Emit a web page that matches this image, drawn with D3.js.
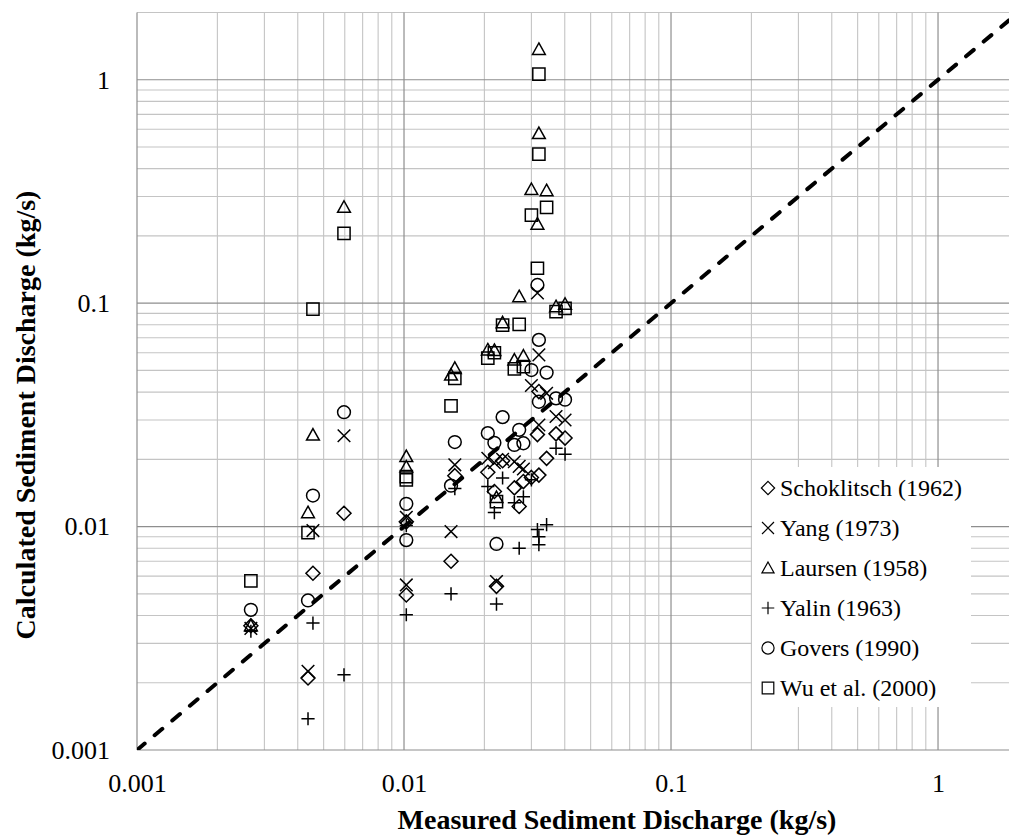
<!DOCTYPE html>
<html>
<head>
<meta charset="utf-8">
<script src="https://cdn.jsdelivr.net/npm/d3@7"></script>
<style>
  body { margin: 0; background: #fff; }
  text { font-family: "Liberation Serif", "Times New Roman", serif; fill: #000; }
</style>
</head>
<body>
<div id="chart"></div>
<script>
// measured discharge (kg/s), one entry per run
var measured    = [0.00267, 0.00437, 0.00456, 0.00596, 0.0102, 0.0102, 0.0150, 0.0155, 0.0206, 0.0218, 0.0222,
                   0.0234, 0.0259, 0.0270, 0.0280, 0.0300, 0.0316, 0.0320, 0.0320, 0.0342, 0.0371, 0.0401];
// calculated discharge (kg/s) per formula
var schoklitsch = [0.0036, 0.0021, 0.00618, 0.01148, 0.0105, 0.00494, 0.0070, 0.0169, 0.0175, 0.01435, 0.0054,
                   0.0197, 0.0149, 0.0123, 0.0159, 0.0166, 0.0258, 0.0402, 0.0170, 0.0202, 0.0260, 0.0249];
var yang        = [0.0035, 0.00225, 0.0096, 0.0255, 0.0110, 0.00548, 0.0095, 0.0189, 0.0202, 0.0193, 0.00568,
                   0.0200, 0.0195, 0.0186, 0.0181, 0.0428, 0.111, 0.0587, 0.0285, 0.0395, 0.0311, 0.0300];
var laursen     = [0.0036, 0.01155, 0.0257, 0.269, 0.0206, 0.0185, 0.0477, 0.0511, 0.0618, 0.0615, 0.0135,
                   0.0818, 0.0557, 0.107, 0.0580, 0.323, 0.226, 0.575, 1.368, 0.319, 0.0965, 0.0990];
var yalin       = [0.0034, 0.00138, 0.0037, 0.00217, 0.0101, 0.00403, 0.0050, 0.0148, 0.0151, 0.01155, 0.0045,
                   0.0165, 0.0128, 0.0080, 0.0136, 0.0162, 0.0097, 0.0090, 0.0083, 0.0102, 0.0224, 0.0211];
var govers      = [0.00424, 0.00467, 0.01377, 0.0325, 0.01264, 0.0087, 0.01525, 0.0239, 0.0262, 0.0237, 0.00836,
                   0.0309, 0.0232, 0.0271, 0.0236, 0.0502, 0.1206, 0.0685, 0.0362, 0.0489, 0.0375, 0.0370];
var wu          = [0.00572, 0.0094, 0.094, 0.2055, 0.01674, 0.01618, 0.0347, 0.0461, 0.0568, 0.0600, 0.01294,
                   0.0798, 0.0508, 0.0804, 0.0520, 0.248, 0.1433, 0.465, 1.06, 0.2686, 0.0917, 0.0947];

var seriesNames = ["Schoklitsch (1962)", "Yang (1973)", "Laursen (1958)", "Yalin (1963)", "Govers (1990)", "Wu et al. (2000)"];
var seriesShapes = ["diamond", "cross", "triangle", "plus", "circle", "square"];
var xTicks = [0.001, 0.01, 0.1, 1];
var yTicks = [0.001, 0.01, 0.1, 1];
var lineEnds = [0.001, 2];

var W = 1009, H = 837;
var margin = {left: 137, top: 12.5, bottom: 750, right: 1018.4};
var serif = "'Liberation Serif', 'Times New Roman', serif";

var svg = d3.select("#chart").append("svg")
    .attr("width", W)
    .attr("height", H);

var x = d3.scaleLog().domain([0.001, 2]).range([margin.left, margin.right]);
var y = d3.scaleLog().domain([0.001, 2]).range([margin.bottom, margin.top]);

function isMajor(v) { return Math.abs(Math.log10(v) - Math.round(Math.log10(v))) < 1e-9; }

// grid
var grid = svg.append("g").attr("class", "grid");
var minorX = x.ticks().filter(function(v){ return !isMajor(v); });
var minorY = y.ticks().filter(function(v){ return !isMajor(v); });
var majorX = x.ticks().filter(isMajor);
var majorY = y.ticks().filter(isMajor);

grid.selectAll("line.vminor").data(minorX).enter().append("line")
    .attr("x1", function(d){ return x(d); }).attr("x2", function(d){ return x(d); })
    .attr("y1", margin.top).attr("y2", margin.bottom)
    .attr("stroke", "#c4c4c4").attr("stroke-width", 1.1);
grid.selectAll("line.hminor").data(minorY).enter().append("line")
    .attr("y1", function(d){ return y(d); }).attr("y2", function(d){ return y(d); })
    .attr("x1", margin.left).attr("x2", margin.right)
    .attr("stroke", "#c4c4c4").attr("stroke-width", 1.1);
grid.selectAll("line.vmajor").data(majorX).enter().append("line")
    .attr("x1", function(d){ return x(d); }).attr("x2", function(d){ return x(d); })
    .attr("y1", margin.top).attr("y2", margin.bottom)
    .attr("stroke", "#8e8e8e").attr("stroke-width", 1.2);
grid.selectAll("line.hmajor").data(majorY).enter().append("line")
    .attr("y1", function(d){ return y(d); }).attr("y2", function(d){ return y(d); })
    .attr("x1", margin.left).attr("x2", margin.right)
    .attr("stroke", "#8e8e8e").attr("stroke-width", 1.2);

// axes (labels only)
var fmt = d3.format("~g");
svg.append("g")
    .attr("transform", "translate(" + margin.left + ",0)")
    .call(d3.axisLeft(y).tickValues(yTicks).tickFormat(fmt).tickSize(0).tickPadding(27));
svg.append("g")
    .attr("transform", "translate(0," + margin.bottom + ")")
    .call(d3.axisBottom(x).tickValues(xTicks).tickFormat(fmt).tickSize(0).tickPadding(23.5));
svg.selectAll(".domain").remove();
svg.selectAll(".tick").select(function(){ return this.parentNode; })
    .attr("font-family", serif)
    .attr("font-size", 26);
svg.selectAll(".tick text")
    .style("font-family", serif)
    .style("font-size", "26px")
    .attr("fill", "#000");

// axis titles
svg.append("text")
    .attr("x", 617).attr("y", 829)
    .attr("text-anchor", "middle")
    .style("font-size", "28px").style("font-weight", "bold")
    .text("Measured Sediment Discharge (kg/s)");
svg.append("text")
    .attr("transform", "translate(35,415) rotate(-90)")
    .attr("text-anchor", "middle")
    .style("font-size", "28px").style("font-weight", "bold")
    .text("Calculated Sediment Discharge (kg/s)");

// 1:1 line
svg.append("clipPath").attr("id", "clip")
  .append("rect").attr("x", margin.left).attr("y", margin.top)
    .attr("width", margin.right - margin.left).attr("height", margin.bottom - margin.top);

var line = d3.line()
    .x(function(d){ return x(d); })
    .y(function(d){ return y(d); });

svg.append("path")
    .datum(lineEnds)
    .attr("d", line)
    .attr("clip-path", "url(#clip)")
    .attr("fill", "none")
    .attr("stroke", "#000")
    .attr("stroke-width", 4)
    .attr("stroke-linecap", "round")
    .attr("stroke-dasharray", "10,13");

// marker shapes
function shapePath(type, s) {
  var r;
  switch (type) {
    case "diamond":  r = 7 * s;   return "M0," + (-r) + "L" + r + ",0L0," + r + "L" + (-r) + ",0Z";
    case "cross":    r = 6.3 * s; return "M" + (-r) + "," + (-r) + "L" + r + "," + r + "M" + (-r) + "," + r + "L" + r + "," + (-r);
    case "triangle": r = 6.4 * s; return "M0," + (-r) + "L" + r + "," + (r * 0.8) + "L" + (-r) + "," + (r * 0.8) + "Z";
    case "plus":     r = 6.6 * s; return "M" + (-r) + ",0L" + r + ",0M0," + (-r) + "L0," + r;
    case "circle":   r = 6.4 * s; return "M" + r + ",0A" + r + "," + r + " 0 1,1 " + (-r) + ",0A" + r + "," + r + " 0 1,1 " + r + ",0Z";
    case "square":   r = 6.1 * s; return "M" + (-r) + "," + (-r) + "H" + r + "V" + r + "H" + (-r) + "Z";
  }
}

var seriesValues = [schoklitsch, yang, laursen, yalin, govers, wu];

var points = svg.append("g").attr("class", "points");
seriesValues.forEach(function(vals, si) {
  var pts = measured.map(function(m, i){ return {x: m, y: vals[i]}; })
                    .filter(function(d){ return d.y != null; });
  points.append("g")
    .selectAll("path")
    .data(pts)
    .enter().append("path")
      .attr("transform", function(d){ return "translate(" + x(d.x) + "," + y(d.y) + ")"; })
      .attr("d", shapePath(seriesShapes[si], 1))
      .attr("fill", "none")
      .attr("stroke", "#000")
      .attr("stroke-width", 1.5);
});

// legend
var legend = svg.append("g").attr("transform", "translate(752,467)");
legend.append("rect")
    .attr("width", 219).attr("height", 240)
    .attr("fill", "#fff");
var items = legend.selectAll("g.item")
    .data(seriesNames)
    .enter().append("g")
    .attr("transform", function(d, i){ return "translate(16," + (21 + i * 40) + ")"; });
items.append("path")
    .attr("d", function(d, i){ return shapePath(seriesShapes[i], 0.95); })
    .attr("fill", "none")
    .attr("stroke", "#000")
    .attr("stroke-width", 1.2);
items.append("text")
    .attr("x", 12).attr("y", 7.5)
    .style("font-family", serif)
    .style("font-size", "24px")
    .text(function(d){ return d; });
</script>
</body>
</html>
